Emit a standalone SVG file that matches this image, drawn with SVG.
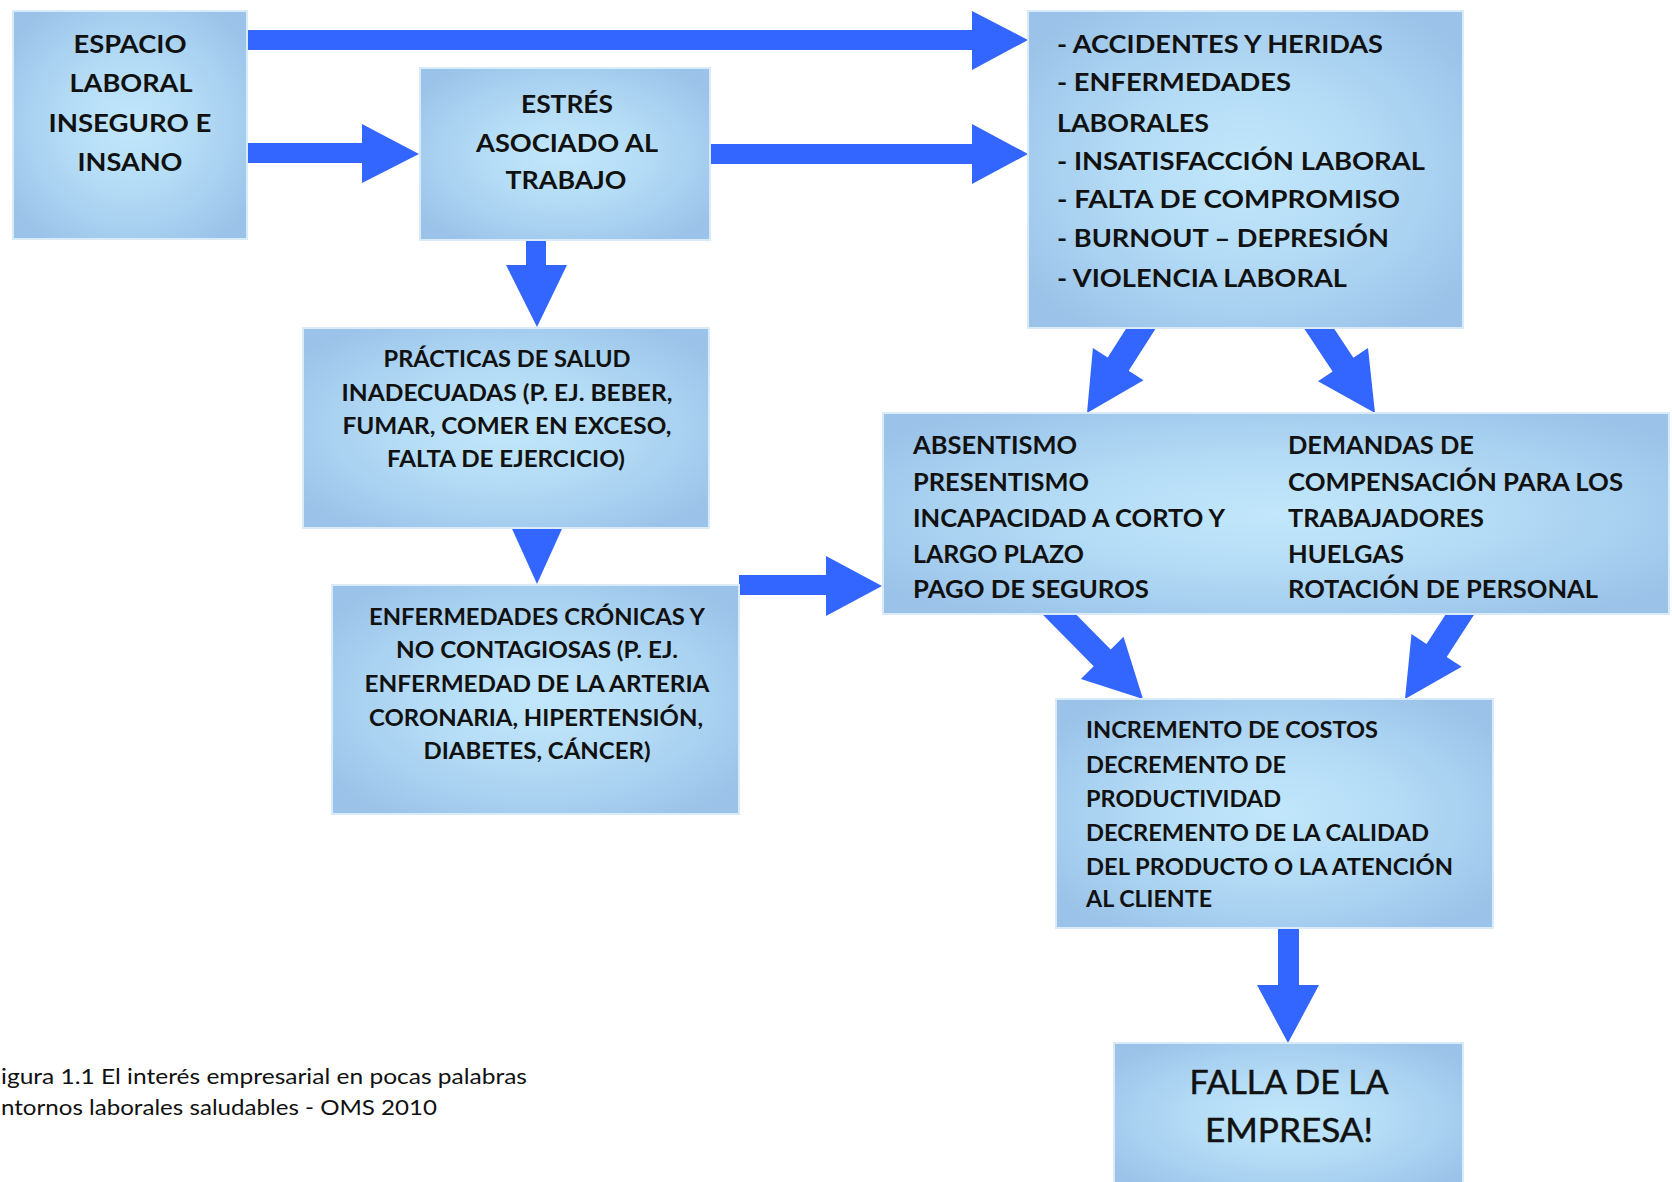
<svg xmlns="http://www.w3.org/2000/svg" width="1672" height="1182" viewBox="0 0 1672 1182">
<defs>
<radialGradient id="g" cx="50%" cy="50%" r="62%">
<stop offset="0" stop-color="#c2e7fb"/>
<stop offset="0.45" stop-color="#b4dcf6"/>
<stop offset="1" stop-color="#9bc3e9"/>
</radialGradient>
<style>
.box{fill:url(#g);stroke:#d9eaf8;stroke-width:2}
.arr{fill:#3366ff}
.t{font-family:Lato,"Open Sans","Liberation Sans",sans-serif;font-weight:bold;fill:#111}
.c{text-anchor:middle}
.big{font-weight:normal;stroke:#111;stroke-width:0.5}
.cap{font-family:Lato,"Open Sans","Liberation Sans",sans-serif;font-size:21px;fill:#111}
</style>
</defs>
<rect width="1672" height="1182" fill="#ffffff"/>
<g id="connectors">
<polygon class="arr" points="240,30 972,30 972,11 1028,40 972,70 972,50 240,50"/>
<polygon class="arr" points="240,143 362,143 362,124 419,154 362,183 362,163 240,163"/>
<polygon class="arr" points="700,144 972,144 972,124 1028,154 972,184 972,164 700,164"/>
<polygon class="arr" points="526,230 546,230 546,265 567,265 537,327 506,265 526,265"/>
<polygon class="arr" points="508,520 566,520 537,584"/>
<polygon class="arr" points="739,575 826,575 826,556 882,586 826,616 826,595 739,595"/>
<polygon class="arr" points="1278,920 1299,920 1299,985 1319,985 1288,1043 1257,985 1278,985"/>
<polygon class="arr" points="1161,320.2 1128.7,370.8 1143.5,380.2 1087,413 1092.9,348 1107.7,357.4 1140,306.8"/>
<polygon class="arr" points="1299.5,321.6 1332.6,371.6 1318,381.3 1375,413 1368,348.1 1353.4,357.8 1320.3,307.8"/>
<polygon class="arr" points="1037.4,609.3 1093.7,666.2 1080.9,678.9 1143,699 1123.5,636.7 1110.7,649.4 1054.4,592.5"/>
<polygon class="arr" points="1479.4,606.6 1446.7,657 1461.7,666.8 1405,699 1411.5,634 1426.5,643.9 1459.2,593.6"/>
</g>
<g id="espacio">
<rect class="box" x="13" y="11" width="234" height="228"/>
<g class="t c" font-size="25">
<text x="130" y="53" textLength="113" lengthAdjust="spacingAndGlyphs">ESPACIO</text>
<text x="131" y="92" textLength="123" lengthAdjust="spacingAndGlyphs">LABORAL</text>
<text x="130" y="132" textLength="163" lengthAdjust="spacingAndGlyphs">INSEGURO E</text>
<text x="130" y="171" textLength="105" lengthAdjust="spacingAndGlyphs">INSANO</text>
</g>
</g>
<g id="estres">
<rect class="box" x="420" y="68" width="290" height="172"/>
<g class="t c" font-size="25">
<text x="567" y="113" textLength="92" lengthAdjust="spacingAndGlyphs">ESTRÉS</text>
<text x="567" y="152" textLength="182" lengthAdjust="spacingAndGlyphs">ASOCIADO AL</text>
<text x="566" y="189" textLength="121" lengthAdjust="spacingAndGlyphs">TRABAJO</text>
</g>
</g>
<g id="consecuencias">
<rect class="box" x="1028" y="11" width="435" height="317"/>
<g class="t" font-size="25">
<text x="1057" y="53" textLength="326" lengthAdjust="spacingAndGlyphs">- ACCIDENTES Y HERIDAS</text>
<text x="1057" y="91" textLength="234" lengthAdjust="spacingAndGlyphs">- ENFERMEDADES</text>
<text x="1057" y="132" textLength="152" lengthAdjust="spacingAndGlyphs">LABORALES</text>
<text x="1057" y="170" textLength="368" lengthAdjust="spacingAndGlyphs">- INSATISFACCIÓN LABORAL</text>
<text x="1057" y="208" textLength="343" lengthAdjust="spacingAndGlyphs">- FALTA DE COMPROMISO</text>
<text x="1057" y="247" textLength="332" lengthAdjust="spacingAndGlyphs">- BURNOUT – DEPRESIÓN</text>
<text x="1057" y="287" textLength="290" lengthAdjust="spacingAndGlyphs">- VIOLENCIA LABORAL</text>
</g>
</g>
<g id="practicas">
<rect class="box" x="303" y="328" width="406" height="200"/>
<g class="t c" font-size="23">
<text x="507" y="367" textLength="247" lengthAdjust="spacingAndGlyphs">PRÁCTICAS DE SALUD</text>
<text x="507" y="401" textLength="331" lengthAdjust="spacingAndGlyphs">INADECUADAS (P. EJ. BEBER,</text>
<text x="507" y="434" textLength="329" lengthAdjust="spacingAndGlyphs">FUMAR, COMER EN EXCESO,</text>
<text x="506" y="467" textLength="238" lengthAdjust="spacingAndGlyphs">FALTA DE EJERCICIO)</text>
</g>
</g>
<g id="cronicas">
<rect class="box" x="332" y="585" width="407" height="229"/>
<g class="t c" font-size="22">
<text x="537" y="625" textLength="336" lengthAdjust="spacingAndGlyphs">ENFERMEDADES CRÓNICAS Y</text>
<text x="537" y="658" textLength="282" lengthAdjust="spacingAndGlyphs">NO CONTAGIOSAS (P. EJ.</text>
<text x="537" y="692" textLength="345" lengthAdjust="spacingAndGlyphs">ENFERMEDAD DE  LA ARTERIA</text>
<text x="536" y="726" textLength="334" lengthAdjust="spacingAndGlyphs">CORONARIA, HIPERTENSIÓN,</text>
<text x="537" y="759" textLength="227" lengthAdjust="spacingAndGlyphs">DIABETES, CÁNCER)</text>
</g>
</g>
<g id="costos-laborales">
<rect class="box" x="883" y="413" width="786" height="201"/>
<g class="t" font-size="25">
<text x="913" y="454" textLength="164" lengthAdjust="spacingAndGlyphs">ABSENTISMO</text>
<text x="913" y="491" textLength="176" lengthAdjust="spacingAndGlyphs">PRESENTISMO</text>
<text x="913" y="527" textLength="312" lengthAdjust="spacingAndGlyphs">INCAPACIDAD A CORTO Y</text>
<text x="913" y="563" textLength="171" lengthAdjust="spacingAndGlyphs">LARGO PLAZO</text>
<text x="913" y="598" textLength="236" lengthAdjust="spacingAndGlyphs">PAGO DE SEGUROS</text>
<text x="1288" y="454" textLength="186" lengthAdjust="spacingAndGlyphs">DEMANDAS DE</text>
<text x="1288" y="491" textLength="335" lengthAdjust="spacingAndGlyphs">COMPENSACIÓN PARA LOS</text>
<text x="1288" y="527" textLength="196" lengthAdjust="spacingAndGlyphs">TRABAJADORES</text>
<text x="1288" y="563" textLength="116" lengthAdjust="spacingAndGlyphs">HUELGAS</text>
<text x="1288" y="598" textLength="310" lengthAdjust="spacingAndGlyphs">ROTACIÓN DE PERSONAL</text>
</g>
</g>
<g id="incremento">
<rect class="box" x="1056" y="699" width="437" height="229"/>
<g class="t" font-size="23">
<text x="1086" y="738" textLength="292" lengthAdjust="spacingAndGlyphs">INCREMENTO DE COSTOS</text>
<text x="1086" y="773" textLength="200" lengthAdjust="spacingAndGlyphs">DECREMENTO DE</text>
<text x="1086" y="807" textLength="195" lengthAdjust="spacingAndGlyphs">PRODUCTIVIDAD</text>
<text x="1086" y="841" textLength="343" lengthAdjust="spacingAndGlyphs">DECREMENTO DE LA CALIDAD</text>
<text x="1086" y="875" textLength="367" lengthAdjust="spacingAndGlyphs">DEL PRODUCTO O LA ATENCIÓN</text>
<text x="1086" y="907" textLength="126" lengthAdjust="spacingAndGlyphs">AL CLIENTE</text>
</g>
</g>
<g id="falla">
<rect class="box" x="1114" y="1043" width="349" height="150"/>
<g class="t c big" font-size="33">
<text x="1289" y="1094" textLength="199" lengthAdjust="spacingAndGlyphs">FALLA DE LA</text>
<text x="1289" y="1142" textLength="168" lengthAdjust="spacingAndGlyphs">EMPRESA!</text>
</g>
</g>
<g id="caption">
<text class="cap" x="1" y="1084" textLength="526" lengthAdjust="spacingAndGlyphs">igura 1.1 El interés empresarial en pocas palabras</text>
<text class="cap" x="1" y="1115" textLength="436" lengthAdjust="spacingAndGlyphs">ntornos laborales saludables - OMS 2010</text>
</g>
</svg>
